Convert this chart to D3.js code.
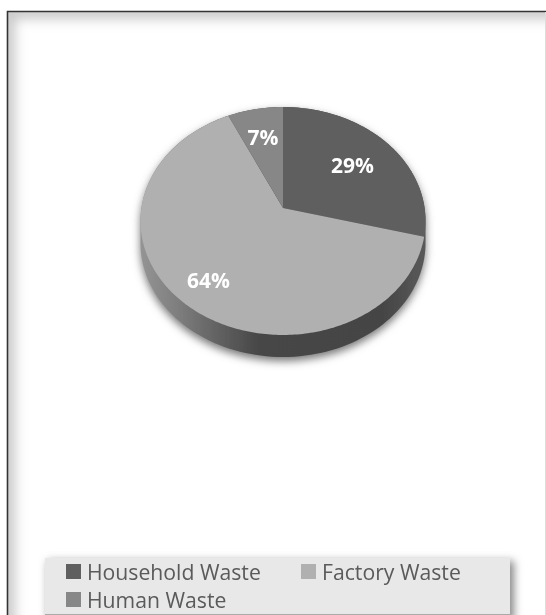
<!DOCTYPE html>
<html>
<head>
<meta charset="utf-8">
<script src="https://cdn.jsdelivr.net/npm/d3@7"></script>
<style>
  html, body { margin: 0; padding: 0; background: #fff; overflow: hidden; }
  svg { display: block; }
</style>
</head>
<body>
<script>
var categories = ["Household Waste", "Factory Waste", "Human Waste"];
var values = [29, 64, 7];
var labels = ["29%", "64%", "7%"];
var colors = ["#5f5f5f", "#b0b0b0", "#878787"];

var width = 546, height = 615;

// the pie is tilted: far side squeezed, so the apex sits above the middle of the ellipse
var apexX = 283, apexY = 208, scaleX = 141.6, scaleY = 112.5, tilt = 0.114, depth = 22;

function project(a, r) {
  var u = r * Math.sin(a), v = -r * Math.cos(a);
  var d = 1 - tilt * v;
  return [apexX + scaleX * u / d, apexY + scaleY * v / d];
}

var svg = d3.select("body").append("svg")
  .attr("width", width)
  .attr("height", height);

var defs = svg.append("defs");

function blur(id, s) {
  defs.append("filter").attr("id", id)
    .attr("x", "-30%").attr("y", "-30%").attr("width", "160%").attr("height", "160%")
    .append("feGaussianBlur").attr("stdDeviation", s);
}
blur("soft", 0.6);
blur("shadow", 4);
blur("edge", 6);

function linear(id, x1, y1, x2, y2, stops) {
  var g = defs.append("linearGradient").attr("id", id)
    .attr("x1", x1).attr("y1", y1).attr("x2", x2).attr("y2", y2);
  stops.forEach(function(s) {
    g.append("stop").attr("offset", s[0]).attr("stop-color", s[1]);
  });
}
linear("sideGrad", 0, 0, 1, 0, [
  [0, "#949494"], [0.12, "#808080"], [0.28, "#606060"],
  [0.42, "#464646"], [0.85, "#454545"], [1, "#5a5a5a"]
]);

// frame of the screenshot, shaded along the top and left only
var page = svg.append("g");
page.append("clipPath").attr("id", "inner")
  .append("rect").attr("x", 8).attr("y", 12).attr("width", 537).attr("height", 603);
page.append("g").attr("clip-path", "url(#inner)")
  .append("path")
  .attr("d", "M8,660V12H600")
  .attr("fill", "none")
  .attr("stroke", "#c8c8c8")
  .attr("stroke-width", 14)
  .attr("filter", "url(#edge)");
page.append("path")
  .attr("d", "M7.5,615V11.5H546")
  .attr("fill", "none")
  .attr("stroke", "#333")
  .attr("stroke-width", 1.6);
page.append("path")
  .attr("d", "M545.5,12V615")
  .attr("stroke", "#ddd")
  .attr("stroke-width", 1);

var chart = svg.append("g").attr("filter", "url(#soft)");

// pie angles
var pie = d3.pie().sort(null).value(function(d) { return d; });
var arcs = pie(values);

var line = d3.line();
var outline = d3.range(0, 361, 2).map(function(deg) {
  return project(deg * Math.PI / 180, 1);
});
var lowered = outline.map(function(p) { return [p[0], p[1] + depth]; });
var hull = d3.polygonHull(outline.concat(lowered));

chart.append("path")
  .attr("d", line(hull) + "Z")
  .attr("transform", "translate(0,4)")
  .attr("fill", "#777")
  .attr("filter", "url(#shadow)");

chart.append("path")
  .attr("d", line(hull) + "Z")
  .attr("fill", "url(#sideGrad)");

chart.selectAll(".slice")
  .data(arcs)
  .enter()
  .append("path")
  .attr("class", "slice")
  .attr("d", function(d) {
    var pts = [[apexX, apexY]];
    var n = Math.ceil((d.endAngle - d.startAngle) * 60);
    d3.range(n + 1).forEach(function(i) {
      pts.push(project(d.startAngle + (d.endAngle - d.startAngle) * i / n, 1));
    });
    return line(pts) + "Z";
  })
  .attr("fill", function(d, i) { return colors[i]; });

// how far out along each slice the label sits
var labelFrac = [0.65, 0.77, 0.7];

chart.selectAll(".lab")
  .data(arcs)
  .enter()
  .append("text")
  .attr("class", "lab")
  .attr("x", function(d, i) { return project((d.startAngle + d.endAngle) / 2, labelFrac[i])[0]; })
  .attr("y", function(d, i) { return project((d.startAngle + d.endAngle) / 2, labelFrac[i])[1]; })
  .attr("text-anchor", "middle")
  .attr("dominant-baseline", "central")
  .attr("font-family", "'Open Sans', sans-serif")
  .attr("font-weight", 700)
  .attr("font-size", 21)
  .attr("fill", "#fff")
  .text(function(d, i) { return labels[i]; });

// legend
var legend = svg.append("g").attr("filter", "url(#soft)");
legend.append("rect")
  .attr("x", 48).attr("y", 561).attr("width", 466).attr("height", 60)
  .attr("fill", "#888")
  .attr("filter", "url(#shadow)");
legend.append("rect")
  .attr("x", 45).attr("y", 558).attr("width", 465).attr("height", 56)
  .attr("fill", "#e8e8e8");
legend.append("path")
  .attr("d", "M45,614.5H510")
  .attr("stroke", "#aaa");

var itemX = d3.scaleOrdinal().domain(categories).range([66, 301, 66]);
var itemY = d3.scaleOrdinal().domain(categories).range([564, 564, 592]);

var items = legend.selectAll(".item")
  .data(categories)
  .enter()
  .append("g")
  .attr("class", "item")
  .attr("transform", function(d) { return "translate(" + itemX(d) + "," + itemY(d) + ")"; });

items.append("rect")
  .attr("width", 15)
  .attr("height", 15)
  .attr("fill", function(d, i) { return colors[i]; });

items.append("text")
  .attr("x", 21)
  .attr("y", 15.5)
  .attr("font-family", "'Open Sans', sans-serif")
  .attr("font-size", 21.2)
  .attr("fill", "#5a5a5a")
  .text(function(d) { return d; });
</script>
</body>
</html>
